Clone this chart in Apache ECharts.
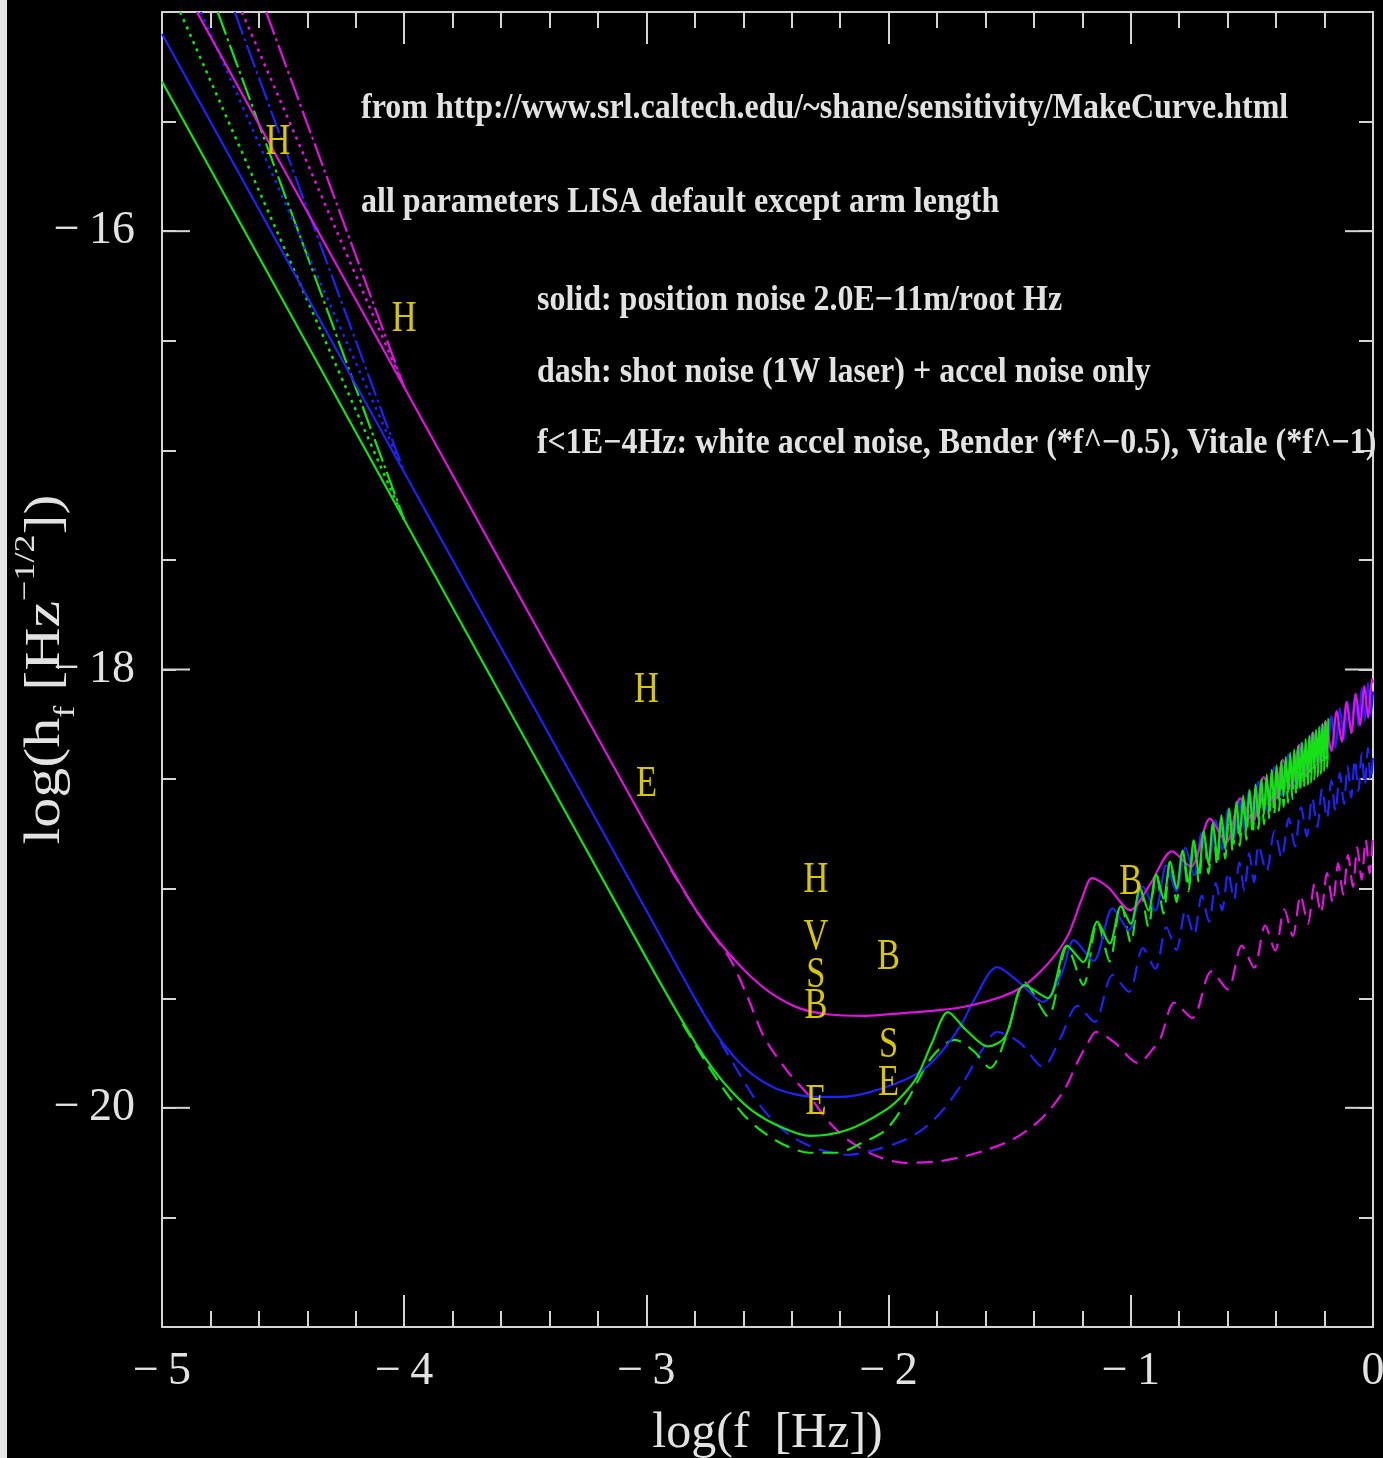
<!DOCTYPE html>
<html>
<head>
<meta charset="utf-8">
<script src="https://cdn.jsdelivr.net/npm/echarts@6/dist/echarts.min.js"></script>
<style>
html,body{margin:0;padding:0;background:#000;overflow:hidden;}
#c{width:1383px;height:1458px;}
</style>
</head>
<body>
<div id="c"></div>
<script>
// ---------------- data (log10 f, log10 h_f) ----------------
const xTickValues = [-5, -4, -3, -2, -1, 0];
const yLabelValues = [-20, -18, -16];

// low-frequency variants (f < 1E-4 Hz)
const magentaBender = [[-4.67, -15.0], [-4.0, -16.712]];
const magentaVitale = [[-4.57, -15.0], [-4.0, -16.712]];
const blueBender = [[-4.84, -15.0], [-4.0, -17.10]];
const blueVitale = [[-4.70, -15.0], [-4.0, -17.10]];
const greenBender = [[-4.925, -15.0], [-4.0, -17.317]];
const greenVitale = [[-4.77, -15.0], [-4.0, -17.317]];

// solid: position noise 2.0E-11 m/rtHz
const magentaSolid = [[-4.856,-15.0],[-4.0,-16.712],[-3.0,-18.712],[-2.8,-19.09],[-2.72,-19.215],[-2.64,-19.32],[-2.56,-19.41],[-2.481,-19.48],[-2.37,-19.545],[-2.246,-19.574],[-2.1,-19.58],[-1.932,-19.567],[-1.8,-19.555],[-1.693,-19.54],[-1.536,-19.494],[-1.45,-19.45],[-1.379,-19.385],[-1.31,-19.30],[-1.255,-19.203],[-1.2,-19.04],[-1.16,-18.952],[-1.094,-18.993],[-1.003,-19.098],[-0.92,-18.98],[-0.83,-18.83],[-0.752,-18.90],[-0.673,-18.68],[-0.606,-18.79],[-0.548,-18.588],[-0.497,-18.697],[-0.451,-18.491],[-0.41,-18.61],[-0.372,-18.412],[-0.337,-18.537],[-0.305,-18.345],[-0.275,-18.475],[-0.247,-18.287],[-0.221,-18.421],[-0.196,-18.236],[-0.172,-18.372],[-0.15,-18.19],[-0.129,-18.329],[-0.109,-18.149],[-0.089,-18.289],[-0.071,-18.111],[-0.053,-18.253],[-0.036,-18.076],[-0.02,-18.22],[-0.004,-18.044],[0,-18.06]];

const blueSolid = [[-5.0,-15.10],[-4.0,-17.10],[-3.0,-19.10],[-2.8,-19.50],[-2.72,-19.65],[-2.64,-19.765],[-2.56,-19.85],[-2.47,-19.91],[-2.38,-19.94],[-2.308,-19.95],[-2.2,-19.95],[-2.089,-19.932],[-1.932,-19.872],[-1.85,-19.82],[-1.775,-19.736],[-1.70,-19.62],[-1.647,-19.508],[-1.552,-19.358],[-1.457,-19.431],[-1.363,-19.517],[-1.284,-19.385],[-1.235,-19.235],[-1.154,-19.33],[-1.075,-19.09],[-1.008,-19.19],[-0.95,-18.99],[-0.899,-19.10],[-0.853,-18.893],[-0.812,-19.012],[-0.774,-18.814],[-0.739,-18.939],[-0.707,-18.747],[-0.677,-18.877],[-0.649,-18.689],[-0.623,-18.823],[-0.598,-18.638],[-0.574,-18.774],[-0.552,-18.592],[-0.531,-18.731],[-0.511,-18.551],[-0.491,-18.691],[-0.473,-18.513],[-0.44,-18.64],[-0.406,-18.446],[-0.377,-18.577],[-0.348,-18.388],[-0.322,-18.522],[-0.297,-18.337],[-0.273,-18.473],[-0.251,-18.291],[-0.23,-18.43],[-0.21,-18.25],[-0.19,-18.39],[-0.172,-18.212],[-0.155,-18.355],[-0.137,-18.177],[-0.12,-18.32],[-0.105,-18.145],[-0.09,-18.29],[-0.075,-18.115],[-0.06,-18.26],[-0.047,-18.087],[-0.034,-18.234],[-0.021,-18.061],[-0.01,-18.21],[0,-18.10]];

const greenSolid = [[-5.0,-15.317],[-4.0,-17.317],[-3.0,-19.317],[-2.8,-19.70],[-2.72,-19.83],[-2.64,-19.935],[-2.561,-20.015],[-2.45,-20.085],[-2.325,-20.128],[-2.168,-20.10],[-2.011,-20.009],[-1.94,-19.94],[-1.883,-19.859],[-1.821,-19.704],[-1.755,-19.563],[-1.68,-19.645],[-1.59,-19.72],[-1.519,-19.677],[-1.439,-19.44],[-1.342,-19.50],[-1.263,-19.26],[-1.196,-19.335],[-1.138,-19.15],[-1.087,-19.25],[-1.041,-19.081],[-1.0,-19.16],[-0.962,-19.002],[-0.927,-19.10],[-0.895,-18.935],[-0.865,-19.045],[-0.837,-18.877],[-0.811,-19.0],[-0.786,-18.826],[-0.762,-18.972],[-0.74,-18.78],[-0.719,-18.929],[-0.699,-18.739],[-0.679,-18.889],[-0.661,-18.701],[-0.643,-18.853],[-0.626,-18.666],[-0.61,-18.82],[-0.594,-18.634],[-0.579,-18.789],[-0.564,-18.604],[-0.55,-18.76],[-0.536,-18.576],[-0.523,-18.733],[-0.51,-18.55],[-0.497,-18.707],[-0.485,-18.525],[-0.473,-18.683],[-0.461,-18.501],[-0.45,-18.66],[-0.439,-18.479],[-0.428,-18.638],[-0.418,-18.458],[-0.408,-18.618],[-0.398,-18.438],[-0.388,-18.598],[-0.378,-18.418],[-0.369,-18.579],[-0.36,-18.40],[-0.351,-18.561],[-0.342,-18.382],[-0.333,-18.543],[-0.325,-18.365],[-0.317,-18.527],[-0.309,-18.349],[-0.301,-18.511],[-0.293,-18.333],[-0.285,-18.495],[-0.278,-18.318],[-0.27,-18.48],[-0.263,-18.303],[-0.256,-18.466],[-0.249,-18.289],[-0.242,-18.452],[-0.235,-18.275],[-0.228,-18.438],[-0.222,-18.262],[-0.215,-18.425],[-0.209,-18.249],[-0.202,-18.412],[-0.196,-18.236],[-0.19,-18.40],[-0.184,-18.224]];

// dash: shot noise (1W laser) + accel noise only
const magentaDashed = [[-2.9,-18.912],[-2.8,-19.09],[-2.72,-19.215],[-2.65,-19.33],[-2.58,-19.50],[-2.514,-19.677],[-2.42,-19.83],[-2.325,-19.95],[-2.25,-20.06],[-2.168,-20.146],[-2.05,-20.22],[-1.932,-20.251],[-1.8,-20.245],[-1.693,-20.223],[-1.59,-20.19],[-1.49,-20.146],[-1.40,-20.08],[-1.334,-20.009],[-1.27,-19.91],[-1.222,-19.795],[-1.18,-19.71],[-1.144,-19.654],[-1.065,-19.704],[-0.97,-19.795],[-0.9,-19.72],[-0.875,-19.677],[-0.82,-19.52],[-0.746,-19.59],[-0.667,-19.377],[-0.6,-19.46],[-0.542,-19.26],[-0.491,-19.36],[-0.445,-19.168],[-0.404,-19.282],[-0.366,-19.094],[-0.331,-19.216],[-0.299,-19.031],[-0.269,-19.16],[-0.241,-18.977],[-0.215,-19.111],[-0.19,-18.929],[-0.166,-19.066],[-0.144,-18.885],[-0.123,-19.027],[-0.103,-18.847],[-0.083,-18.991],[-0.065,-18.811],[-0.047,-18.959],[-0.03,-18.778],[-0.014,-18.929],[0,-18.75]];

const blueDashed = [[-2.8,-19.50],[-2.72,-19.65],[-2.64,-19.80],[-2.56,-19.945],[-2.48,-20.055],[-2.40,-20.13],[-2.3,-20.185],[-2.168,-20.214],[-2.05,-20.19],[-1.932,-20.146],[-1.85,-20.09],[-1.775,-20.009],[-1.69,-19.88],[-1.614,-19.736],[-1.552,-19.654],[-1.457,-19.704],[-1.363,-19.813],[-1.29,-19.68],[-1.22,-19.535],[-1.15,-19.608],[-1.075,-19.394],[-1.008,-19.471],[-0.95,-19.271],[-0.899,-19.365],[-0.853,-19.176],[-0.812,-19.281],[-0.774,-19.098],[-0.739,-19.211],[-0.707,-19.032],[-0.677,-19.151],[-0.649,-18.975],[-0.623,-19.099],[-0.598,-18.925],[-0.574,-19.051],[-0.552,-18.88],[-0.531,-19.01],[-0.511,-18.839],[-0.491,-18.971],[-0.473,-18.802],[-0.44,-18.922],[-0.406,-18.736],[-0.377,-18.861],[-0.348,-18.679],[-0.322,-18.808],[-0.297,-18.629],[-0.273,-18.761],[-0.251,-18.584],[-0.23,-18.719],[-0.21,-18.543],[-0.19,-18.681],[-0.172,-18.506],[-0.155,-18.647],[-0.137,-18.472],[-0.12,-18.613],[-0.105,-18.44],[-0.09,-18.584],[-0.075,-18.411],[-0.06,-18.555],[-0.047,-18.383],[-0.034,-18.53],[-0.021,-18.358],[-0.01,-18.507],[0,-18.40]];

const greenDashed = [[-2.85,-19.617],[-2.75,-19.80],[-2.671,-19.93],[-2.6,-20.03],[-2.531,-20.10],[-2.43,-20.17],[-2.325,-20.205],[-2.213,-20.205],[-2.11,-20.16],[-2.011,-20.10],[-1.92,-19.96],[-1.821,-19.768],[-1.726,-19.69],[-1.65,-19.74],[-1.581,-19.818],[-1.51,-19.66],[-1.439,-19.427],[-1.342,-19.583],[-1.263,-19.265],[-1.196,-19.439],[-1.138,-19.151],[-1.087,-19.332],[-1.041,-19.062],[-1.0,-19.247],[-0.962,-18.989],[-0.927,-19.175],[-0.895,-18.928],[-0.865,-19.114],[-0.837,-18.875],[-0.811,-19.061],[-0.786,-18.828],[-0.762,-19.012],[-0.74,-18.786],[-0.719,-18.97],[-0.699,-18.748],[-0.679,-18.931],[-0.661,-18.713],[-0.643,-18.895],[-0.626,-18.681],[-0.61,-18.863],[-0.594,-18.652],[-0.579,-18.832],[-0.564,-18.624],[-0.55,-18.804],[-0.536,-18.599],[-0.523,-18.777],[-0.51,-18.575],[-0.497,-18.752],[-0.485,-18.552],[-0.473,-18.728],[-0.461,-18.53],[-0.45,-18.706],[-0.439,-18.51],[-0.428,-18.684],[-0.418,-18.49],[-0.408,-18.664],[-0.398,-18.472],[-0.388,-18.645],[-0.378,-18.454],[-0.369,-18.626],[-0.36,-18.437],[-0.351,-18.608],[-0.342,-18.421],[-0.333,-18.591],[-0.325,-18.405],[-0.317,-18.575],[-0.309,-18.39],[-0.301,-18.559],[-0.293,-18.376],[-0.285,-18.543],[-0.278,-18.362],[-0.27,-18.529],[-0.263,-18.348],[-0.256,-18.515],[-0.249,-18.335],[-0.242,-18.501],[-0.235,-18.323],[-0.228,-18.487],[-0.222,-18.311],[-0.215,-18.475],[-0.209,-18.299],[-0.202,-18.462],[-0.196,-18.287],[-0.19,-18.45],[-0.184,-18.276]];

// letter annotations (text, log f, log h)
const letterMarks = [
  ['H', -4.521, -15.595], ['H', -4.0, -16.40],
  ['H', -3.0, -18.096], ['E', -3.0, -18.524],
  ['H', -2.3, -18.961], ['V', -2.3, -19.22], ['S', -2.3, -19.394], ['B', -2.3, -19.539], ['E', -2.3, -19.977],
  ['B', -2.0, -19.311], ['S', -2.0, -19.713], ['E', -2.0, -19.886],
  ['B', -1.0, -18.969]
];
const noteLines = [
  ['from http://www.srl.caltech.edu/~shane/sensitivity/MakeCurve.html', -4.178, -15.444],
  ['all parameters LISA default except arm length', -4.178, -15.872],
  ['solid: position noise 2.0E\u221211m/root Hz', -3.452, -16.319],
  ['dash: shot noise (1W laser) + accel noise only', -3.452, -16.647],
  ['f<1E\u22124Hz: white accel noise, Bender (*f^\u22120.5), Vitale (*f^\u22121)', -3.452, -16.970]
];

// ---------------- chart ----------------
const MAG = '#e014e0', BLU = '#2222f4', GRN = '#16e016';
const AX = '#d4d4d4', TXT = '#e2e2e2', YEL = '#d8c600';
const FONT = 'Liberation Serif';
const fmtTick = v => v === 0 ? '0' : '\u2212\u2009' + Math.abs(v);

const DASH = [16, 9], DOT = [3, 5], DASHDOT = [24, 4, 3, 4];
function line(data, color, type, smooth, z, w) {
  return { type: 'line', data: data, xAxisIndex: 0, yAxisIndex: 0, showSymbol: false, symbol: 'none',
    smooth: smooth, silent: true, animation: false, z: z,
    lineStyle: { color: color, width: w || 2.2, type: type } };
}

const tickStyle = { color: AX, width: 2 };
const xBase = { type: 'value', min: -5, max: 0, interval: 1, splitLine: { show: false },
  axisLine: { show: true, onZero: false, lineStyle: { color: AX, width: 2 } },
  axisTick: { show: true, inside: true, length: 32, lineStyle: tickStyle },
  minorTick: { show: true, splitNumber: 5, length: 16, lineStyle: tickStyle },
  minorSplitLine: { show: false } };
const yBase = { type: 'value', min: -21, max: -15, interval: 0.5, splitLine: { show: false },
  axisLine: { show: true, onZero: false, lineStyle: { color: AX, width: 2 } },
  axisTick: { show: true, inside: true, length: 14, lineStyle: tickStyle } };

// long (major) y ticks at the labelled values, drawn through the axis scale
const majorYTicks = {
  type: 'custom', coordinateSystem: 'cartesian2d', xAxisIndex: 0, yAxisIndex: 0,
  silent: true, animation: false, clip: false, z: 1,
  data: yLabelValues.map(v => [-5, v]),
  renderItem: function (params, api) {
    const v = api.value(1);
    const l = api.coord([-5, v]), r = api.coord([0, v]);
    const st = { stroke: AX, lineWidth: 2 };
    return { type: 'group', children: [
      { type: 'line', shape: { x1: l[0], y1: l[1], x2: l[0] + 28, y2: l[1] }, style: st },
      { type: 'line', shape: { x1: r[0] - 28, y1: r[1], x2: r[0], y2: r[1] }, style: st }
    ] };
  }
};

const option = {
  backgroundColor: '#000',
  animation: false,
  grid: { left: 162, right: 10, top: 12, bottom: 131, show: false, containLabel: false, outerBoundsMode: 'none' },
  xAxis: [
    Object.assign({}, xBase, { position: 'bottom',
      axisLabel: { show: true, color: TXT, fontFamily: FONT, fontSize: 46, margin: 22, formatter: fmtTick } }),
    Object.assign({}, xBase, { position: 'top', axisLabel: { show: false } })
  ],
  yAxis: [
    Object.assign({}, yBase, { position: 'left',
      axisLabel: { show: true, color: TXT, fontFamily: FONT, fontSize: 46, margin: 27,
        formatter: v => yLabelValues.indexOf(v) >= 0 ? fmtTick(v) : '' } }),
    Object.assign({}, yBase, { position: 'right', axisLabel: { show: false } })
  ],
  series: [
    majorYTicks,
    line(greenBender, GRN, DOT, false, 2, 2.6),
    line(greenVitale, GRN, DASHDOT, false, 2),
    line(blueBender, BLU, DOT, false, 2, 2.6),
    line(blueVitale, BLU, DASHDOT, false, 2),
    line(magentaBender, MAG, DOT, false, 2, 2.6),
    line(magentaVitale, MAG, DASHDOT, false, 2),
    line(magentaDashed, MAG, DASH, 0.3, 3),
    line(blueDashed, BLU, DASH, 0.3, 3),
    line(greenDashed, GRN, DASH, 0.3, 3),
    line(blueSolid, BLU, 'solid', 0.3, 4),
    line(magentaSolid, MAG, 'solid', 0.3, 4),
    line(greenSolid, GRN, 'solid', 0.3, 4)
  ]
};

const chart = echarts.init(document.getElementById('c'), null, { renderer: 'canvas' });
chart.setOption(option);

const toPx = (x, y) => chart.convertToPixel({ xAxisIndex: 0, yAxisIndex: 0 }, [x, y]);
const graphics = [];
graphics.push({ type: 'rect', shape: { x: 0, y: 0, width: 7, height: 1458 }, style: { fill: '#e6e6e6' }, z: 100, silent: true });

letterMarks.forEach(m => {
  const p = toPx(m[1], m[2]);
  graphics.push({ type: 'text', x: p[0], y: p[1], scaleX: 0.82, scaleY: 1.06, z: 110, silent: true,
    style: { text: m[0], fill: YEL, fontFamily: FONT, fontSize: 42,
      align: 'center', verticalAlign: 'middle', textAlign: 'center', textVerticalAlign: 'middle' } });
});
noteLines.forEach(n => {
  const p = toPx(n[1], n[2]);
  graphics.push({ type: 'text', x: p[0], y: p[1], scaleY: 1.1, z: 110, silent: true,
    style: { text: n[0], fill: TXT, fontFamily: FONT, fontWeight: 'bold', fontSize: 32,
      align: 'left', verticalAlign: 'middle', textAlign: 'left', textVerticalAlign: 'middle' } });
});

// axis titles
const xMid = toPx(-2.5, -21)[0];
graphics.push({ type: 'text', x: xMid, y: 1434, z: 110, silent: true,
  style: { text: 'log(f  [Hz])', fill: TXT, fontFamily: FONT, fontSize: 50,
    align: 'center', verticalAlign: 'middle', textAlign: 'center', textVerticalAlign: 'middle' } });
const yMid = toPx(-5, -18)[1];
graphics.push({ type: 'text', x: 46, y: yMid, rotation: Math.PI / 2, scaleX: 1.2, z: 110, silent: true,
  style: { text: '{a|log(h}{s|f}{a| [Hz}{p|\u22121/2}{a|])}',
    align: 'center', verticalAlign: 'middle', textAlign: 'center', textVerticalAlign: 'middle',
    rich: {
      a: { fontFamily: FONT, fontSize: 50, fill: TXT, lineHeight: 70, verticalAlign: 'middle' },
      s: { fontFamily: FONT, fontSize: 30, fill: TXT, lineHeight: 30, verticalAlign: 'bottom' },
      p: { fontFamily: FONT, fontSize: 30, fill: TXT, lineHeight: 30, verticalAlign: 'top' }
    } } });

chart.setOption({ graphic: graphics });
</script>
</body>
</html>
